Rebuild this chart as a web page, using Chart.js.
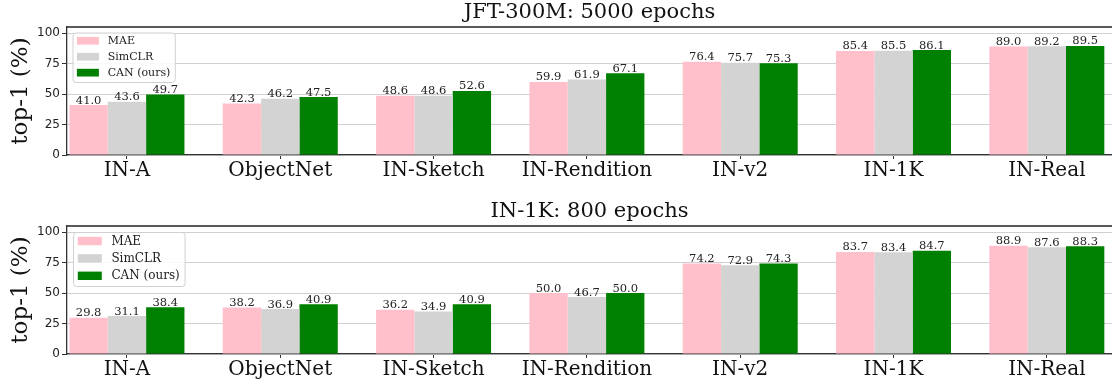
<!DOCTYPE html>
<html>
<head>
<meta charset="utf-8">
<script src="https://cdn.jsdelivr.net/npm/chart.js@4.4.0/dist/chart.umd.min.js"></script>
<style>
    body { margin: 0; background: #fff; width: 1112px; height: 383px; overflow: hidden; position: relative; }
    canvas { position: absolute; left: 0; }
    #jftChart { top: 0; }
    #in1kChart { top: 199px; }
</style>
</head>
<body>
<canvas id="jftChart" width="1112" height="190"></canvas>
<canvas id="in1kChart" width="1112" height="184"></canvas>
<script>
// Data
const categories = ['IN-A', 'ObjectNet', 'IN-Sketch', 'IN-Rendition', 'IN-v2', 'IN-1K', 'IN-Real'];
const methods = ['MAE', 'SimCLR', 'CAN (ours)'];

// JFT-300M, 5000 epochs
const jftMae = [41.0, 42.3, 48.6, 59.9, 76.4, 85.4, 89.0];
const jftSimclr = [43.6, 46.2, 48.6, 61.9, 75.7, 85.5, 89.2];
const jftCan = [49.7, 47.5, 52.6, 67.1, 75.3, 86.1, 89.5];

// IN-1K, 800 epochs
const in1kMae = [29.8, 38.2, 36.2, 50.0, 74.2, 83.7, 88.9];
const in1kSimclr = [31.1, 36.9, 34.9, 46.7, 72.9, 83.4, 87.6];
const in1kCan = [38.4, 40.9, 40.9, 50.0, 74.3, 84.7, 88.3];

const yTicks = [0, 25, 50, 75, 100];

// Axis limits and look
const Y_MAX = 105;
const X_MIN = -0.391;
const X_MAX = 6.425;
const barColors = ['#ffc0cb', '#d3d3d3', '#008000'];
const SERIF = "'DejaVu Serif', serif";
const SANS = "'DejaVu Sans', sans-serif";

// Numbers above each bar, plus the top spine
const valueLabels = {
    id: 'valueLabels',
    afterDatasetsDraw(chart) {
        const ctx = chart.ctx;
        ctx.save();
        ctx.font = `11.5px ${SERIF}`;
        ctx.fillStyle = '#222';
        ctx.textAlign = 'center';
        ctx.textBaseline = 'alphabetic';
        chart.data.datasets.forEach((ds, di) => {
            chart.getDatasetMeta(di).data.forEach((bar, i) => {
                ctx.fillText(ds.data[i].y.toFixed(1), bar.x, bar.y - 1.5);
            });
        });
        const area = chart.chartArea;
        ctx.strokeStyle = '#222';
        ctx.lineWidth = 1.3;
        ctx.beginPath();
        ctx.moveTo(area.left, area.top);
        ctx.lineTo(area.right, area.top);
        ctx.stroke();
        ctx.restore();
    }
};

// Legend box in the upper left of the plot
const boxLegend = {
    id: 'boxLegend',
    afterDraw(chart, args, opts) {
        const f = opts.fontSize;
        const ctx = chart.ctx;
        const area = chart.chartArea;
        ctx.save();
        ctx.font = `${f}px ${SERIF}`;
        const textW = Math.max(...chart.data.datasets.map(d => ctx.measureText(d.label).width));
        const x = area.left + 0.5 * f;
        const y = area.top + 0.5 * f;
        const w = 3.6 * f + textW;
        const h = 4.5 * f;
        ctx.fillStyle = 'rgba(255,255,255,0.85)';
        ctx.strokeStyle = '#d0d0d0';
        ctx.lineWidth = 1;
        ctx.beginPath();
        ctx.roundRect(x + 0.5, y + 0.5, w, h, 3);
        ctx.fill();
        ctx.stroke();
        chart.data.datasets.forEach((ds, i) => {
            const cy = y + (0.75 + 1.45 * i) * f;
            ctx.fillStyle = ds.backgroundColor;
            ctx.fillRect(x + 0.4 * f, cy - 0.35 * f, 2 * f, 0.7 * f);
            ctx.fillStyle = '#222';
            ctx.textBaseline = 'middle';
            ctx.fillText(ds.label, x + 3.2 * f, cy + 0.5);
        });
        ctx.restore();
    }
};

function makeChart(canvasId, title, maeVals, simclrVals, canVals, legendSize, xAxisHeight) {
    const series = [maeVals, simclrVals, canVals];
    return new Chart(document.getElementById(canvasId), {
        type: 'bar',
        data: {
            datasets: series.map((vals, s) => ({
                label: methods[s],
                data: vals.map((v, i) => ({ x: i, y: v })),
                backgroundColor: barColors[s],
                borderWidth: 0,
                categoryPercentage: 0.75,
                barPercentage: 1.0
            }))
        },
        options: {
            responsive: false,
            animation: false,
            devicePixelRatio: 1,
            layout: { padding: 0 },
            plugins: {
                legend: { display: false },
                tooltip: { enabled: false },
                title: {
                    display: true,
                    text: title,
                    fullSize: false,
                    color: '#111',
                    font: { family: SERIF, size: 21, weight: 'normal', lineHeight: 1.2 },
                    padding: { top: 0, bottom: 1.8 }
                },
                boxLegend: { fontSize: legendSize }
            },
            scales: {
                x: {
                    type: 'linear',
                    min: X_MIN,
                    max: X_MAX,
                    offset: false,
                    afterBuildTicks: s => { s.ticks = categories.map((c, i) => ({ value: i })); },
                    afterFit: s => { s.height = xAxisHeight; },
                    grid: { display: true, drawOnChartArea: false, drawTicks: true, tickLength: 4, tickColor: '#333', offset: false },
                    border: { display: true, color: '#333', width: 1.3 },
                    ticks: {
                        autoSkip: false,
                        maxRotation: 0,
                        padding: 0,
                        color: '#111',
                        font: { family: SERIF, size: 20 },
                        callback: v => categories[v]
                    }
                },
                y: {
                    min: 0,
                    max: Y_MAX,
                    afterBuildTicks: s => { s.ticks = yTicks.map(v => ({ value: v })); },
                    afterFit: s => { s.width = 67; },
                    grid: { color: '#d0d0d0', lineWidth: 1, tickColor: '#333', tickLength: 5 },
                    border: { display: true, color: '#333', width: 1.3 },
                    ticks: { padding: 2, color: '#222', font: { family: SANS, size: 12 } },
                    title: {
                        display: true,
                        text: 'top-1 (%)',
                        color: '#111',
                        font: { family: SERIF, size: 23 },
                        padding: { top: 7, bottom: 0 }
                    }
                }
            }
        },
        plugins: [valueLabels, boxLegend]
    });
}

makeChart('jftChart', 'JFT-300M: 5000 epochs', jftMae, jftSimclr, jftCan, 11, 35);
makeChart('in1kChart', 'IN-1K: 800 epochs', in1kMae, in1kSimclr, in1kCan, 12, 29);
</script>
</body>
</html>
